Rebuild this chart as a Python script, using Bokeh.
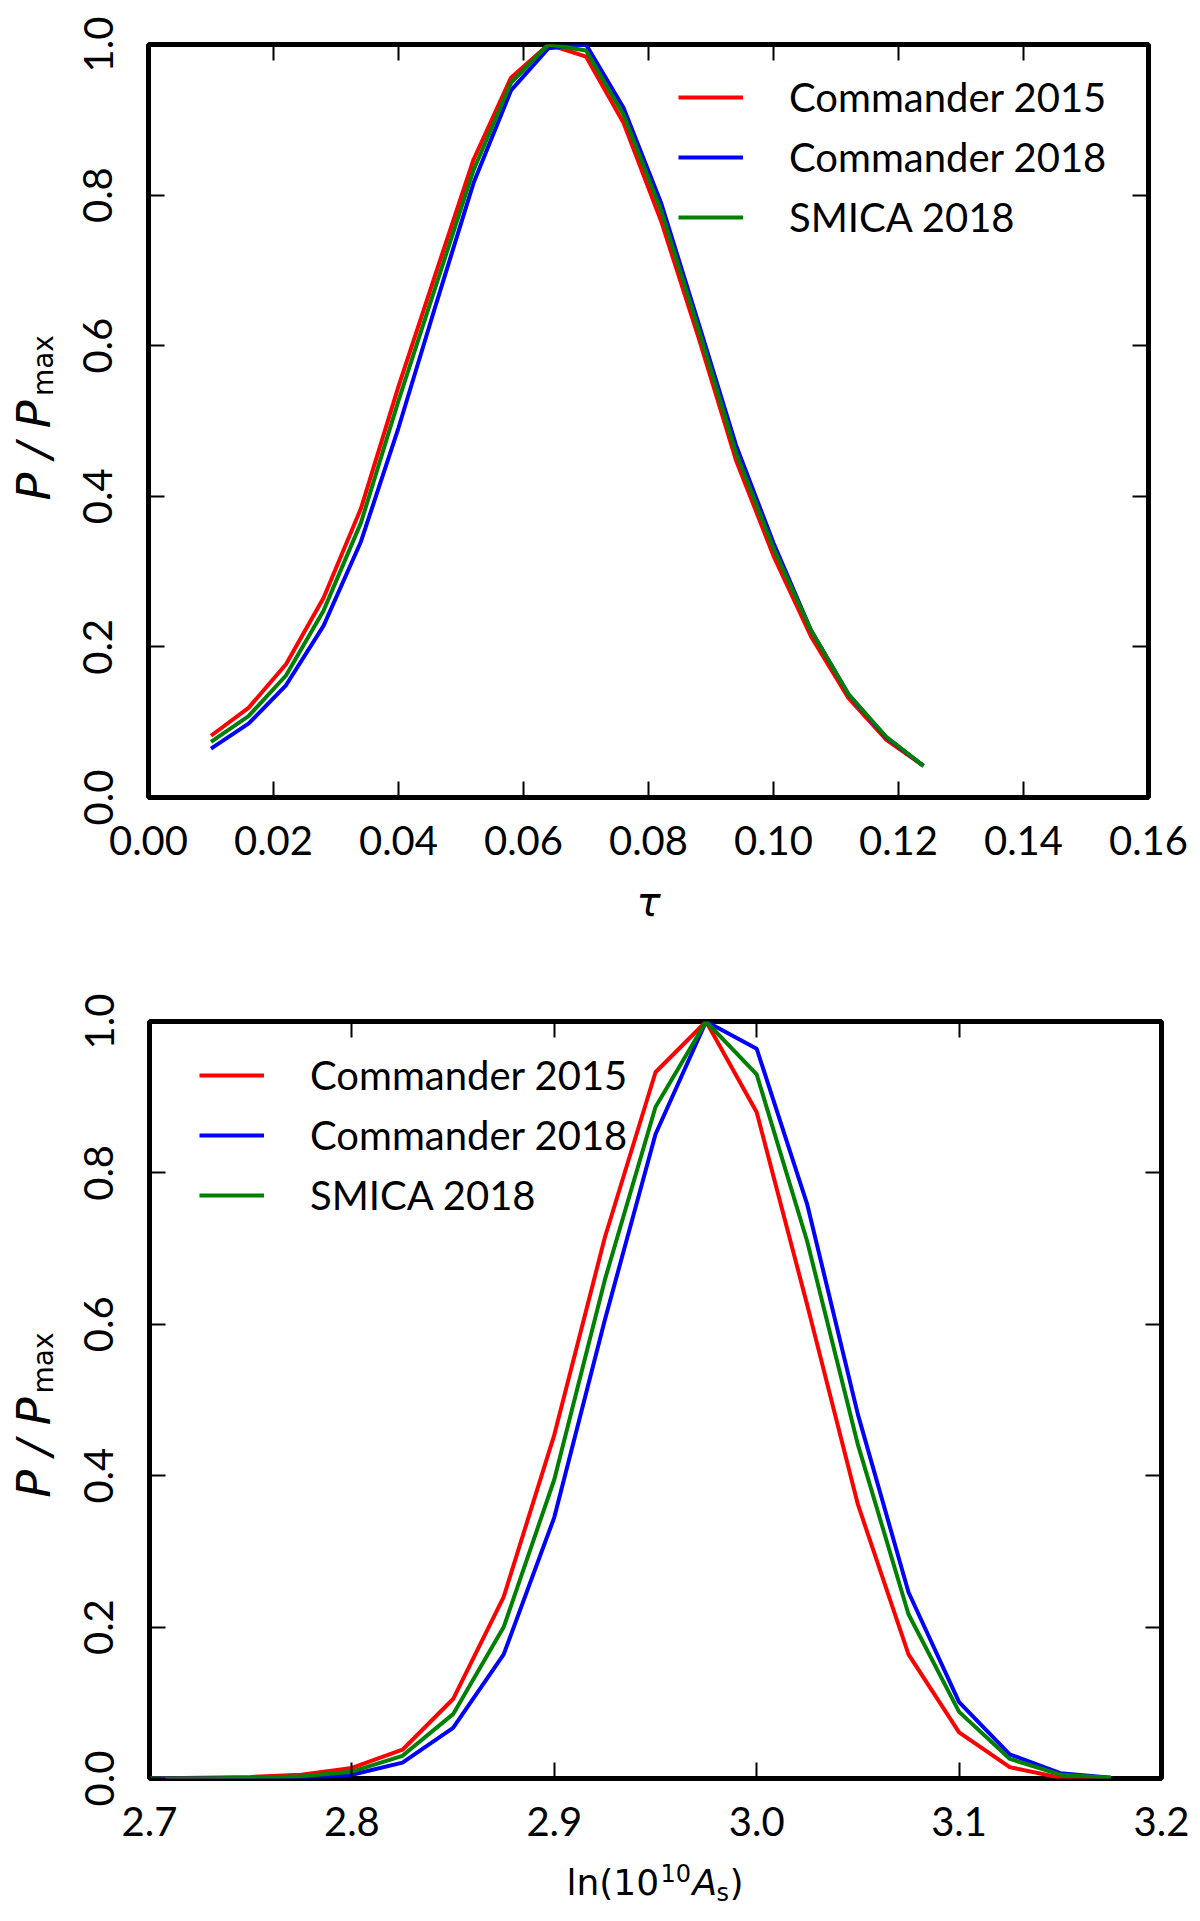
import math
from bokeh.plotting import figure
from bokeh.models import (FixedTicker, PrintfTickFormatter, LinearAxis,
                          Legend, LegendItem, Range1d)
from bokeh.core.properties import value
from bokeh.layouts import column, row
from bokeh.embed import file_html
from bokeh.resources import INLINE

# ---------------- data ----------------
series_names = ["Commander 2015", "Commander 2018", "SMICA 2018"]
series_colors = ["#ff0000", "#0000ff", "#008000"]

tau = [0.010, 0.016, 0.022, 0.028, 0.034, 0.040, 0.046, 0.052, 0.058, 0.064,
       0.070, 0.076, 0.082, 0.088, 0.094, 0.100, 0.106, 0.112, 0.118, 0.124]
tau_commander2015 = [0.082, 0.119, 0.177, 0.265, 0.384, 0.546, 0.697, 0.847, 0.956, 1.000,
                     0.984, 0.896, 0.766, 0.611, 0.448, 0.321, 0.214, 0.132, 0.077, 0.042]
tau_commander2018 = [0.065, 0.098, 0.149, 0.228, 0.340, 0.491, 0.655, 0.816, 0.939, 0.995,
                     1.000, 0.916, 0.790, 0.630, 0.468, 0.338, 0.222, 0.137, 0.080, 0.042]
tau_smica2018 = [0.074, 0.108, 0.162, 0.248, 0.365, 0.527, 0.680, 0.833, 0.949, 1.000,
                 0.992, 0.907, 0.780, 0.622, 0.458, 0.331, 0.222, 0.137, 0.081, 0.042]
tau_ticks = [0.00, 0.02, 0.04, 0.06, 0.08, 0.10, 0.12, 0.14, 0.16]

lnAs = [2.700, 2.725, 2.750, 2.775, 2.800, 2.825, 2.850, 2.875, 2.900, 2.925,
        2.950, 2.975, 3.000, 3.025, 3.050, 3.075, 3.100, 3.125, 3.150, 3.175]
lnAs_commander2015 = [0.000, 0.001, 0.002, 0.005, 0.014, 0.038, 0.105, 0.240, 0.454, 0.715,
                      0.933, 1.000, 0.880, 0.625, 0.362, 0.164, 0.061, 0.015, 0.001, 0.000]
lnAs_commander2018 = [0.000, 0.000, 0.000, 0.001, 0.005, 0.021, 0.067, 0.164, 0.345, 0.606,
                      0.851, 1.000, 0.964, 0.758, 0.481, 0.246, 0.101, 0.032, 0.007, 0.001]
lnAs_smica2018 = [0.000, 0.000, 0.001, 0.003, 0.009, 0.030, 0.085, 0.200, 0.395, 0.659,
                  0.887, 1.000, 0.930, 0.709, 0.441, 0.217, 0.088, 0.026, 0.005, 0.001]
lnAs_ticks = [2.7, 2.8, 2.9, 3.0, 3.1, 3.2]

p_ticks = [0.0, 0.2, 0.4, 0.6, 0.8, 1.0]

# axis-label pieces (text, size in px, style)
ylabel_parts = [("P / P", 46, "italic"), ("max", 28, "normal")]
tau_label = "τ"
lnAs_label_parts = [("ln(10", 36, "normal"), ("10", 24, "normal"),
                    ("A", 36, "italic"), ("s", 24, "normal"),
                    (")", 36, "normal")]

TICK_FONT = "Lato"
TICK_SIZE = "40px"
LABEL_FONT = "DejaVu Sans"
YLAB_W = 62
TOTAL_W = 1190
MID = 0.35  # distance (in em) from the alphabetic baseline to the text box middle


def style_axis(ax, ticks, fmt, show_labels, standoff, vertical=False):
    ax.ticker = FixedTicker(ticks=ticks, minor_ticks=[])
    ax.formatter = PrintfTickFormatter(format=fmt)
    ax.axis_line_color = None
    ax.major_tick_in = 16
    ax.major_tick_out = 0
    ax.major_tick_line_width = 2
    ax.major_tick_line_color = "black"
    ax.minor_tick_line_color = None
    ax.major_label_text_font = TICK_FONT
    if show_labels:
        ax.major_label_text_color = "black"
        ax.major_label_text_font_size = TICK_SIZE
        ax.major_label_standoff = standoff
    else:
        ax.major_label_text_color = None
        ax.major_label_text_font_size = "1px"
        ax.major_label_standoff = 0
    if vertical:
        ax.major_label_orientation = "vertical"


def make_panel(x, ys, x_range, x_ticks, x_fmt, fw, fh, bl, bt, bb, legend_loc):
    p = figure(x_range=Range1d(*x_range), y_range=Range1d(0, 1),
               frame_width=fw, frame_height=fh,
               min_border_left=bl, min_border_right=TOTAL_W - YLAB_W - bl - fw,
               min_border_top=bt, min_border_bottom=bb,
               output_backend="svg", toolbar_location=None)
    p.xgrid.visible = False
    p.ygrid.visible = False
    p.outline_line_color = "black"
    p.outline_line_width = 5
    p.background_fill_color = "white"
    p.border_fill_color = "white"

    style_axis(p.xaxis[0], x_ticks, x_fmt, True, 28)
    style_axis(p.yaxis[0], p_ticks, "%.1f", True, 36, vertical=True)
    top_ax = LinearAxis()
    right_ax = LinearAxis()
    style_axis(top_ax, x_ticks, x_fmt, False, 0)
    style_axis(right_ax, p_ticks, "%.1f", False, 0)
    p.add_layout(top_ax, "above")
    p.add_layout(right_ax, "right")

    renderers = []
    for yv, col in zip(ys, series_colors):
        renderers.append(p.line(x, yv, line_color=col, line_width=4))

    items = [LegendItem(label=n, renderers=[r]) for n, r in zip(series_names, renderers)]
    leg = Legend(items=items, location=legend_loc, orientation="vertical",
                 glyph_width=65, glyph_height=60, label_height=60, label_standoff=46,
                 spacing=0, padding=0, margin=0,
                 border_line_color=None, background_fill_alpha=0,
                 label_text_font=TICK_FONT, label_text_font_size="40px",
                 label_text_color="black")
    p.add_layout(leg)
    return p


def blank(width, height):
    f = figure(width=width, height=height, x_range=Range1d(0, width),
               y_range=Range1d(0, height), min_border=0, title=None,
               x_axis_location=None, y_axis_location=None,
               output_backend="svg", toolbar_location=None)
    f.xgrid.visible = False
    f.ygrid.visible = False
    f.outline_line_color = None
    f.border_fill_color = "white"
    f.background_fill_color = "white"
    return f


def put_text(f, x, y, text, size, style, rotated=False, align="left"):
    # (x, y) is the point on the alphabetic baseline; the glyph is anchored at the
    # middle of its text box, which lies MID*size above the baseline
    if rotated:
        ax_, ay_, ang = x - MID * size, y, math.pi / 2
    else:
        ax_, ay_, ang = x, y + MID * size, 0.0
    f.text(x=[ax_], y=[ay_], text=[text], angle=ang,
           text_font=value(LABEL_FONT), text_font_size=f"{size}px",
           text_font_style=style, text_color="black",
           text_align=align, text_baseline="middle")


def ylabel_fig(height, center_from_top):
    # rotated "P / P_max" in a narrow strip left of the panel;
    # the two pieces meet at a junction so their widths do not matter
    f = blank(YLAB_W, height)
    jy = height - (center_from_top - 8)
    main, sub = ylabel_parts
    put_text(f, 50, jy - 2, main[0], main[1], main[2], rotated=True, align="right")
    put_text(f, 53, jy + 3, sub[0], sub[1], sub[2], rotated=True, align="left")
    return f


# ---------------- top panel (tau) ----------------
t_bl, t_bt, t_fw, t_fh, t_bb = 148 - YLAB_W, 44, 1000, 753, 80
t_h = t_bt + t_fh + t_bb
top = make_panel(tau, [tau_commander2015, tau_commander2018, tau_smica2018],
                 (0.0, 0.16), tau_ticks, "%.2f", t_fw, t_fh, t_bl, t_bt, t_bb,
                 (530, 550))
top_ylab = ylabel_fig(t_h, t_bt + t_fh / 2)

xlab1_h = 58
xlab1 = blank(TOTAL_W, xlab1_h)
put_text(xlab1, YLAB_W + t_bl + t_fw / 2, 20, tau_label, 40, "italic", align="center")

# ---------------- bottom panel (ln 10^10 A_s) ----------------
b_bl, b_bt, b_fw, b_fh, b_bb = 149 - YLAB_W, 86, 1012, 757, 80
b_h = b_bt + b_fh + b_bb
bottom = make_panel(lnAs, [lnAs_commander2015, lnAs_commander2018, lnAs_smica2018],
                    (2.7, 3.2), lnAs_ticks, "%.1f", b_fw, b_fh, b_bl, b_bt, b_bb,
                    (50, 553))
bottom_ylab = ylabel_fig(b_h, b_bt + b_fh / 2)

xlab2_h = 58
xlab2 = blank(TOTAL_W, xlab2_h)
cx = YLAB_W + b_bl + b_fw / 2
piece_dx = [-89, 5, 37, 61, 74]
piece_dy = [21, 35, 21, 15, 21]
for (txt, size, style), dx, dy in zip(lnAs_label_parts, piece_dx, piece_dy):
    put_text(xlab2, cx + dx, dy, txt, size, style)

layout = column(row(top_ylab, top, spacing=0), xlab1,
                row(bottom_ylab, bottom, spacing=0), xlab2, spacing=0)
open("out.html", "w").write(file_html(layout, INLINE))
